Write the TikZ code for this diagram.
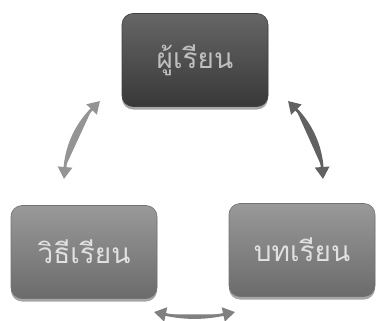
\documentclass[tikz,border=0pt]{standalone}
\usepackage{fontspec}
\newfontfamily\thaifont[Script=Thai]{Loma}
\usetikzlibrary{shadows,arrows.meta}
\begin{document}
\begin{tikzpicture}[x=1pt,y=-1pt,
  box/.style={rounded corners=11pt, minimum width=146pt, minimum height=93pt,
    inner sep=0pt, font=\thaifont\fontsize{28}{32}\selectfont,
    drop shadow={shadow xshift=0pt, shadow yshift=-3pt, opacity=0.35, fill=black}},
  darkbox/.style={box, top color=black!60, bottom color=black!78, draw=black!75, line width=0.6pt, text=black!25},
  lightbox/.style={box, top color=black!40, bottom color=black!58, draw=black!55, line width=0.6pt, text=black!12},
  conn/.style={line width=2.8pt, {Triangle[length=12pt,width=14pt]}-{Triangle[length=12pt,width=14pt]}}]
\useasboundingbox (0,0) rectangle (380,321);
\node[darkbox] (learner) at (195,60) {ผู้เรียน};
\node[lightbox] (method) at (84,252) {วิธีเรียน};
\node[lightbox] (lesson) at (302,250) {บทเรียน};
\coordinate (a1) at (100,101);
\coordinate (a2) at (64,179);
\coordinate (b1) at (288,101);
\coordinate (b2) at (323,179);
\coordinate (c1) at (154,312);
\coordinate (c2) at (235,312);
\draw[conn, draw=black!42, fill=black!42] (a1) to[bend right=20] (a2);
\draw[conn, draw=black!62, fill=black!62] (b1) to[bend left=20] (b2);
\draw[conn, draw=black!50, fill=black!50] (c1) to[bend right=12] (c2);
\end{tikzpicture}
\end{document}
